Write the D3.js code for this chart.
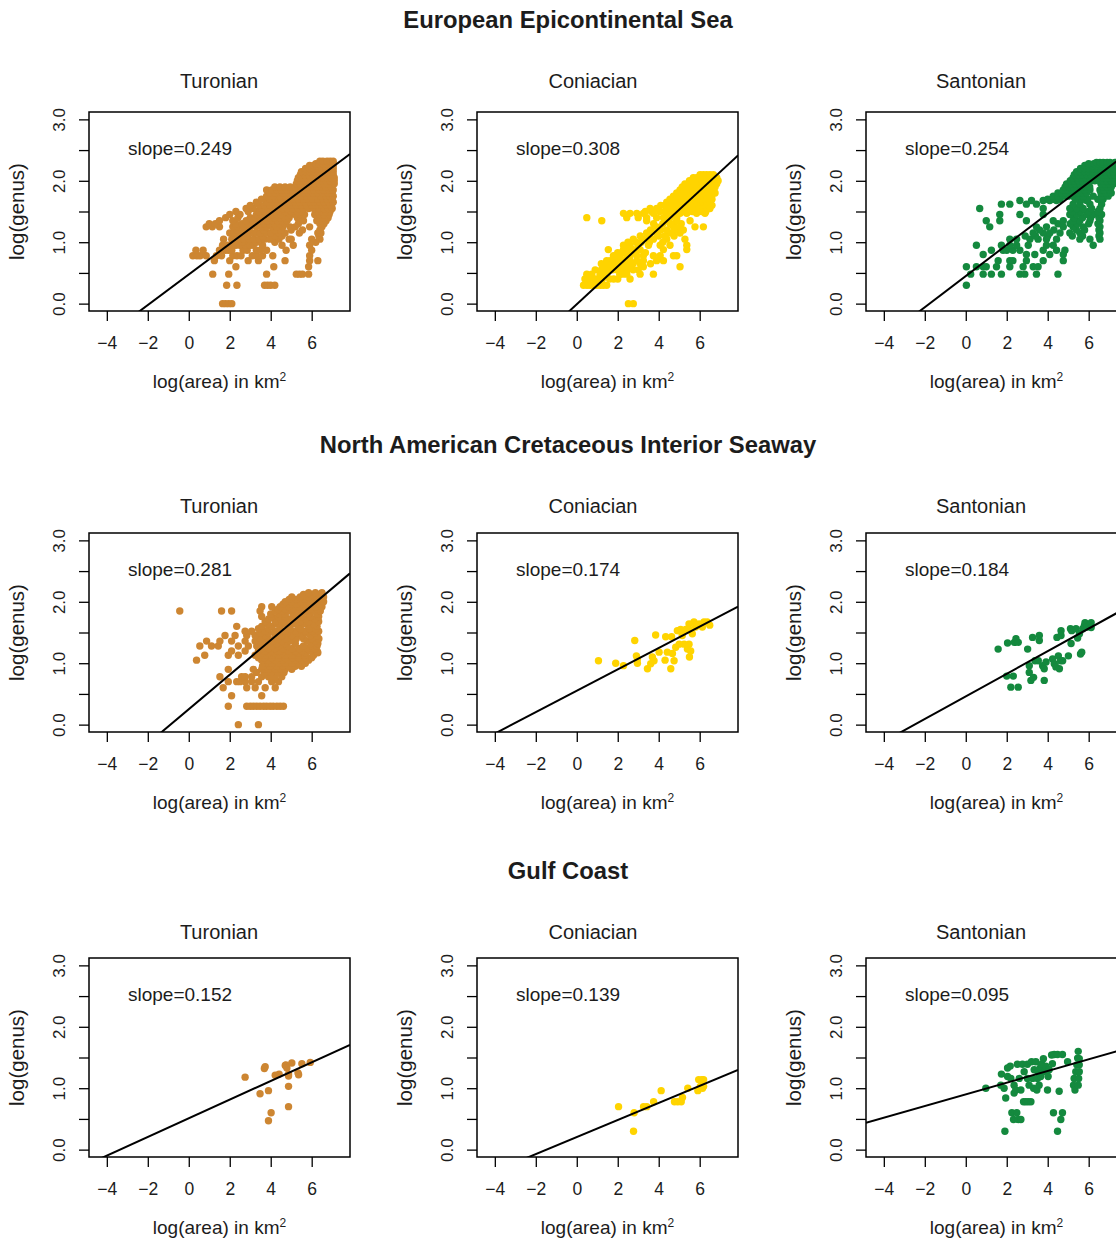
<!DOCTYPE html>
<html>
<head>
<meta charset="utf-8">
<script src="https://cdn.jsdelivr.net/npm/d3@7"></script>
<style>
    body { margin: 0; background: #ffffff; }
    text { font-family: "Liberation Sans", Arial, Helvetica, sans-serif; fill: #1c1c1c; }
</style>
</head>
<body>
<div class="species-area-figure"></div>
<script>
// ---- values ----
const regions = ["European Epicontinental Sea", "North American Cretaceous Interior Seaway", "Gulf Coast"];
const stages = ["Turonian", "Coniacian", "Santonian"];
const stageColors = ["#cd8632", "#ffd400", "#14893e"];

// regression lines, one row per region, one column per stage
const slopes = [[0.249, 0.308, 0.254], [0.281, 0.174, 0.184], [0.152, 0.139, 0.095]];
const intercepts = [[0.475, -0.01, 0.449], [0.251, 0.55, 0.46], [0.51, 0.205, 0.90]];

const xTicks = [-4, -2, 0, 2, 4, 6];
const xTickLabels = ["\u22124", "\u22122", "0", "2", "4", "6"];
const yTicks = [0, 0.5, 1, 1.5, 2, 2.5, 3];
const yTickLabels = ["0.0", "", "1.0", "", "2.0", "", "3.0"];

// dense panels: [log(genus), [log(area) values on that level]]
const eesTuronianRows = [
    [0.0, [1.65, 1.8, 1.95, 2.1]],
    [0.3, [1.85, 2.35, 3.7, 3.85, 4.0, 4.2]],
    [0.48, [1.17, 1.95, 3.8, 5.25, 5.4, 5.55, 5.85]],
    [0.6, [2.3, 4.15, 5.85]],
    [0.7, [1.25, 2.0, 2.9, 3.4, 4.7, 5.9, 6.3]],
    [0.78, [0.2, 0.4, 0.55, 0.85, 1.35, 1.6, 2.15, 2.35, 2.55, 3.1, 3.3, 3.6, 4.1, 5.9]],
    [0.87, [0.35, 0.7, 1.5, 1.8, 1.95, 2.1, 2.65, 2.85, 3.3, 3.5, 3.8, 4.75, 6.0]],
    [0.95, [1.65, 1.9, 2.05, 2.3, 2.5, 2.8, 3.0, 3.15, 3.6, 4.55, 5.1, 5.9]],
    [1.0, [2.2, 2.6, 3.3, 4.2, 6.2]],
    [1.05, [1.7, 2.1, 2.3, 2.5, 2.7, 2.95, 3.2, 3.45, 3.7, 3.95, 4.4, 4.9, 5.0, 6.0, 6.4]],
    [1.1, [2.4, 2.85, 3.6, 4.2, 4.55, 6.35]],
    [1.15, [2.0, 2.2, 2.5, 2.7, 3.1, 3.3, 3.5, 3.8, 4.0, 4.4, 4.7, 5.4, 6.3, 6.45]],
    [1.2, [2.35, 2.9, 3.65, 4.2, 4.5, 5.0, 5.55, 6.4]],
    [1.25, [0.85, 1.15, 1.5, 2.15, 2.4, 2.65, 3.0, 3.3, 3.55, 3.8, 4.05, 4.3, 4.6, 4.95, 5.2, 5.9, 6.5]],
    [1.3, [1.0, 1.3, 2.3, 2.6, 2.9, 3.2, 3.45, 3.7, 3.95, 4.2, 4.45, 4.7, 5.35, 6.4, 6.6]],
    [1.35, [1.5, 2.15, 2.8, 3.15, 3.4, 3.6, 3.85, 4.1, 4.35, 4.55, 4.8, 5.4, 5.6, 6.25, 6.5, 6.7]],
    [1.4, [1.8, 2.4, 3.0, 3.25, 3.5, 3.75, 4.0, 4.2, 4.45, 4.7, 4.9, 5.3, 5.5, 6.3, 6.55, 6.8]],
    [1.45, [2.0, 2.5, 3.3, 3.55, 3.8, 4.05, 4.3, 4.5, 4.95, 5.2, 5.45, 5.65, 6.15, 6.4, 6.6, 6.85]],
    [1.5, [2.3, 2.9, 3.4, 3.7, 3.95, 4.2, 4.45, 4.7, 5.0, 5.3, 5.5, 6.25, 6.5, 6.7, 6.9]],
    [1.55, [2.8, 3.15, 3.6, 3.85, 4.1, 4.35, 4.6, 4.8, 5.1, 5.35, 5.6, 5.85, 6.1, 6.35, 6.6, 6.8, 7.0]],
    [1.6, [3.0, 3.45, 3.7, 3.95, 4.25, 4.5, 4.7, 5.0, 5.25, 5.5, 5.75, 6.0, 6.2, 6.5, 6.7, 6.95]],
    [1.65, [3.3, 3.8, 4.1, 4.35, 4.6, 4.95, 5.2, 5.45, 5.7, 5.95, 6.15, 6.4, 6.6, 6.85, 7.05]],
    [1.7, [3.55, 3.95, 4.25, 4.5, 4.85, 5.1, 5.35, 5.6, 5.85, 6.05, 6.3, 6.55, 6.75, 7.0]],
    [1.75, [3.8, 4.1, 4.45, 4.75, 5.0, 5.25, 5.5, 5.75, 5.95, 6.2, 6.45, 6.7, 6.9, 7.05]],
    [1.8, [3.95, 4.2, 4.6, 4.9, 5.15, 5.35, 5.6, 5.85, 6.05, 6.3, 6.55, 6.8, 7.0]],
    [1.85, [3.8, 4.05, 4.3, 4.55, 4.8, 5.1, 5.4, 5.65, 5.9, 6.1, 6.35, 6.6, 6.85, 7.05]],
    [1.9, [4.2, 4.45, 4.7, 4.95, 5.2, 5.5, 5.75, 6.0, 6.25, 6.5, 6.7, 6.95]],
    [1.95, [5.25, 5.45, 5.6, 5.9, 6.15, 6.4, 6.6, 6.8, 7.0, 7.1]],
    [2.0, [5.3, 5.5, 5.7, 5.9, 6.1, 6.3, 6.5, 6.7, 6.9, 7.1]],
    [2.05, [5.35, 5.55, 5.75, 5.95, 6.15, 6.35, 6.55, 6.75, 6.95, 7.1]],
    [2.1, [5.45, 5.65, 5.85, 6.05, 6.25, 6.45, 6.65, 6.85, 7.05]],
    [2.15, [5.5, 5.7, 5.9, 6.1, 6.3, 6.5, 6.7, 6.9, 7.05]],
    [2.2, [5.7, 5.9, 6.1, 6.3, 6.5, 6.7, 6.9, 7.05]],
    [2.25, [5.9, 6.1, 6.25, 6.45, 6.65, 6.85, 7.05]],
    [2.28, [6.2, 6.35, 6.55, 6.7, 6.9, 7.05]],
    [2.32, [6.4, 6.55, 6.75, 6.9, 7.05]]
];

const eesConiacianRows = [
    [0.0, [2.52, 2.76]],
    [0.3, [0.33, 0.5, 0.65, 0.82, 0.98, 1.15, 1.3, 1.46]],
    [0.4, [0.4, 0.6, 0.85, 1.0, 1.25, 1.6, 1.8, 2.0, 2.6]],
    [0.48, [0.49, 0.73, 1.14, 1.3, 1.46, 2.1, 2.25, 2.44, 3.09, 3.74]],
    [0.55, [0.9, 1.2, 1.5, 1.75, 1.95, 2.2, 2.45, 2.75, 3.0]],
    [0.6, [1.3, 1.45, 1.63, 2.1, 2.3, 2.6, 3.25, 5.04]],
    [0.65, [1.2, 1.55, 1.75, 1.95, 2.15, 2.4, 2.75, 3.1, 3.6]],
    [0.7, [1.46, 1.63, 1.79, 2.0, 2.28, 2.45, 2.6, 2.93, 3.25, 3.9, 4.23]],
    [0.78, [1.79, 1.95, 2.1, 2.44, 2.6, 2.93, 3.25, 3.74, 4.07, 4.72, 4.88]],
    [0.83, [2.0, 2.2, 2.35, 2.6, 2.85, 3.35]],
    [0.88, [1.54, 2.28, 2.45, 2.76, 3.09, 4.23, 5.37]],
    [0.95, [2.28, 2.6, 3.0, 3.5, 4.07, 4.55, 5.37]],
    [1.0, [2.5, 2.9, 3.15, 3.55, 4.2]],
    [1.05, [2.76, 3.25, 3.74, 4.39, 5.28]],
    [1.1, [3.1, 3.55, 4.0, 4.3, 4.75]],
    [1.15, [3.41, 3.9, 4.55, 5.04]],
    [1.2, [3.6, 4.1, 4.4, 4.8, 5.2]],
    [1.25, [3.9, 4.72, 5.04, 5.77, 6.18]],
    [1.3, [3.75, 4.2, 4.55, 4.75, 5.1]],
    [1.35, [1.22, 3.41, 4.39, 4.88, 5.53]],
    [1.4, [0.49, 2.44, 3.0, 3.41, 3.9, 4.23, 4.55, 4.88]],
    [1.47, [2.28, 2.6, 2.93, 3.25, 3.74, 4.39, 4.72, 5.04, 5.37, 5.85, 6.26]],
    [1.5, [3.35, 3.65, 4.05, 4.3, 4.55, 4.8, 5.0, 5.2, 5.45, 5.65, 5.9, 6.1, 6.3]],
    [1.55, [3.58, 3.9, 4.55, 4.72, 4.88, 5.04, 5.2, 5.37, 5.53, 5.69, 5.85, 6.02, 6.18, 6.34, 6.5]],
    [1.6, [4.1, 4.3, 4.45, 4.65, 4.8, 4.95, 5.1, 5.3, 5.45, 5.6, 5.8, 5.95, 6.1, 6.26, 6.42, 6.6]],
    [1.65, [4.39, 4.55, 4.72, 4.88, 5.04, 5.2, 5.37, 5.53, 5.69, 5.85, 6.02, 6.18, 6.34, 6.5]],
    [1.7, [4.55, 4.8, 4.95, 5.1, 5.3, 5.45, 5.6, 5.75, 5.93, 6.1, 6.26, 6.42, 6.6]],
    [1.75, [4.72, 4.88, 5.04, 5.2, 5.37, 5.53, 5.69, 5.85, 6.02, 6.18, 6.34, 6.58]],
    [1.8, [4.88, 5.1, 5.28, 5.45, 5.6, 5.75, 5.93, 6.1, 6.26, 6.42, 6.6, 6.75]],
    [1.85, [5.04, 5.2, 5.37, 5.53, 5.69, 5.85, 6.02, 6.18, 6.34, 6.5, 6.67]],
    [1.9, [5.15, 5.3, 5.45, 5.6, 5.76, 5.93, 6.1, 6.26, 6.42, 6.58, 6.75]],
    [1.95, [5.28, 5.45, 5.6, 5.76, 5.93, 6.1, 6.26, 6.42, 6.58, 6.83]],
    [2.0, [5.5, 5.65, 5.8, 5.95, 6.1, 6.26, 6.42, 6.58, 6.75, 6.9]],
    [2.05, [5.69, 5.85, 6.02, 6.18, 6.34, 6.5, 6.67, 6.83]],
    [2.1, [6.02, 6.18, 6.34, 6.5, 6.67]]
];

const eesSantonianRows = [
    [0.3, [0.03]],
    [0.48, [0.24, 0.85, 1.25, 1.74, 2.64, 2.88, 3.45, 4.5]],
    [0.6, [0.03, 0.52, 0.85, 1.0, 1.5, 2.15, 2.8, 3.29, 3.53]],
    [0.7, [1.58, 2.15, 2.3, 2.96, 3.78, 4.76]],
    [0.8, [0.85, 2.96, 3.37, 4.1, 4.76]],
    [0.87, [1.25, 1.82, 2.0, 2.3, 2.64, 3.78, 4.43, 4.84]],
    [0.95, [0.52, 1.74, 2.15, 2.48, 3.05, 3.94, 4.27, 6.22]],
    [1.05, [2.15, 2.48, 3.13, 3.53, 3.94, 4.43, 5.57, 6.06, 6.55]],
    [1.1, [2.9, 3.4, 4.0, 5.2, 5.7, 6.5]],
    [1.15, [3.29, 3.78, 4.1, 4.6, 5.08, 5.57, 6.55]],
    [1.2, [3.6, 4.3, 5.4, 5.8, 6.5]],
    [1.25, [1.17, 3.45, 3.94, 4.76, 5.24, 5.73, 6.55]],
    [1.3, [4.5, 5.1, 5.45, 6.0, 6.45]],
    [1.35, [1.0, 1.66, 2.96, 4.27, 4.76, 5.24, 5.57, 6.06, 6.55]],
    [1.4, [5.3, 5.7, 6.1, 6.5]],
    [1.45, [1.66, 2.64, 3.78, 5.08, 5.41, 5.9, 6.22, 6.63]],
    [1.5, [5.2, 5.6, 6.0, 6.45]],
    [1.55, [0.68, 3.78, 5.08, 5.41, 5.73, 6.14, 6.55]],
    [1.62, [1.74, 2.15, 2.96, 3.45, 5.24, 5.57, 6.06, 6.63]],
    [1.68, [2.64, 3.21, 3.78, 4.1, 4.43, 5.57, 5.9]],
    [1.7, [4.0, 4.3, 4.6, 5.35, 5.7, 5.95, 6.45, 6.7]],
    [1.75, [4.27, 4.5, 4.75, 5.0, 5.24, 5.5, 5.73, 6.22, 6.63, 6.95]],
    [1.8, [4.5, 4.7, 4.9, 5.1, 5.3, 5.5, 5.7, 5.9, 6.6, 6.85, 7.1]],
    [1.85, [4.76, 5.0, 5.2, 5.41, 5.6, 5.8, 6.06, 6.55, 6.75, 7.04]],
    [1.9, [4.85, 5.05, 5.25, 5.45, 5.65, 5.85, 6.05, 6.7, 6.9, 7.1]],
    [1.95, [4.92, 5.15, 5.35, 5.57, 5.75, 5.95, 6.6, 6.8, 7.0, 7.2]],
    [2.0, [5.1, 5.3, 5.5, 5.7, 5.9, 6.1, 6.3, 6.5, 6.7, 6.9, 7.1, 7.25]],
    [2.05, [5.24, 5.45, 5.65, 5.85, 6.05, 6.25, 6.45, 6.7, 6.95, 7.2]],
    [2.1, [5.3, 5.5, 5.7, 5.9, 6.1, 6.3, 6.5, 6.7, 6.9, 7.1, 7.25]],
    [2.15, [5.41, 5.6, 5.8, 6.0, 6.2, 6.4, 6.6, 6.8, 7.0, 7.2]],
    [2.2, [5.6, 5.8, 6.0, 6.2, 6.4, 6.6, 6.8, 7.0, 7.25]],
    [2.25, [5.81, 6.0, 6.2, 6.4, 6.6, 6.8, 7.0, 7.2]],
    [2.28, [6.0, 6.25, 6.45, 6.65, 6.85, 7.05, 7.25]],
    [2.3, [6.38, 6.55, 6.71, 6.9, 7.04, 7.28]]
];

const nacisTuronianRows = [
    [0.0, [2.42, 3.4]],
    [0.3, [1.93, 2.83, 3.0, 3.15, 3.32, 3.48, 3.65, 3.8, 3.97, 4.12, 4.3, 4.46, 4.62]],
    [0.47, [2.09, 3.56]],
    [0.6, [1.68, 2.83, 3.24, 3.73, 4.22]],
    [0.7, [1.93, 2.34, 2.5, 2.75, 3.07, 3.4, 4.05, 4.38]],
    [0.78, [1.52, 2.58, 2.75, 3.07, 3.56, 3.89, 4.22, 4.54]],
    [0.85, [3.3, 3.7, 4.05, 4.35, 4.65]],
    [0.9, [1.93, 3.15, 3.56, 3.89, 4.22, 4.5, 4.71, 5.03]],
    [0.95, [3.6, 3.95, 4.3, 4.6, 4.9, 5.2, 5.5]],
    [1.0, [3.73, 3.9, 4.05, 4.38, 4.71, 5.03, 5.36, 5.69]],
    [1.05, [0.38, 3.56, 3.89, 4.22, 4.54, 4.87, 5.2, 5.52, 5.85]],
    [1.09, [3.4, 3.7, 4.05, 4.4, 4.7, 5.05, 5.35, 5.7, 6.0]],
    [1.13, [0.78, 1.93, 2.42, 3.24, 3.5, 3.73, 4.05, 4.38, 4.71, 5.03, 5.36, 5.69, 6.09]],
    [1.17, [3.55, 3.9, 4.2, 4.55, 4.9, 5.35, 5.7, 6.05, 6.3]],
    [1.2, [2.09, 2.75, 3.4, 3.73, 4.05, 4.3, 4.46, 4.87, 5.2, 5.52, 5.93, 6.26]],
    [1.24, [3.55, 3.9, 4.2, 4.6, 5.05, 5.4, 5.8, 6.15]],
    [1.28, [0.54, 1.11, 1.44, 2.42, 2.91, 3.32, 3.73, 4.05, 4.38, 4.79, 5.6, 6.01, 6.26]],
    [1.32, [3.5, 3.9, 4.3, 4.7, 5.2, 5.95, 6.3]],
    [1.36, [0.87, 1.52, 2.09, 2.75, 3.24, 3.73, 4.13, 4.54, 4.95, 5.77, 6.18]],
    [1.4, [3.5, 3.9, 4.35, 4.75, 5.25, 5.6, 6.0, 6.35]],
    [1.45, [1.77, 2.26, 2.83, 3.24, 3.73, 4.22, 4.54, 5.03, 5.52, 5.93, 6.26]],
    [1.49, [3.5, 3.9, 4.4, 4.8, 5.3, 5.75, 6.15]],
    [1.52, [2.75, 3.07, 3.73, 4.22, 4.71, 5.2, 5.69, 6.01, 6.34]],
    [1.56, [3.4, 3.9, 4.45, 4.95, 5.45, 5.9, 6.2]],
    [1.6, [2.34, 3.56, 4.05, 4.46, 4.87, 5.36, 5.85, 6.26]],
    [1.64, [3.85, 4.3, 4.7, 5.2, 5.6, 6.1]],
    [1.68, [3.73, 4.22, 4.62, 5.03, 5.44, 5.85, 6.34]],
    [1.72, [3.9, 4.5, 4.9, 5.3, 5.7, 6.15]],
    [1.76, [3.56, 4.05, 4.38, 4.71, 5.11, 5.52, 5.93, 6.34]],
    [1.8, [4.0, 4.4, 4.7, 5.1, 5.45, 5.85, 6.25]],
    [1.85, [-0.44, 1.6, 2.09, 3.48, 4.22, 4.54, 4.87, 5.28, 5.69, 6.09, 6.42]],
    [1.88, [4.35, 4.7, 5.1, 5.5, 5.9, 6.3]],
    [1.92, [3.56, 4.05, 4.46, 4.87, 5.36, 5.77, 6.18, 6.5]],
    [1.96, [4.6, 4.95, 5.25, 5.6, 6.0, 6.4]],
    [2.0, [4.71, 5.03, 5.44, 5.85, 6.26, 6.58]],
    [2.04, [4.9, 5.25, 5.65, 6.05, 6.45]],
    [2.08, [5.03, 5.44, 5.85, 6.26, 6.58]],
    [2.12, [5.6, 6.0, 6.35]],
    [2.15, [5.85, 6.18, 6.5]]
];

// sparse panels: [log(area), log(genus)]
const nacisConiacian = [
    [1.06, 1.04], [1.9, 1.0], [2.28, 0.96], [2.83, 1.37], [2.91, 1.12], [2.96, 1.0], [2.96, 1.07],
    [3.45, 0.91], [3.61, 0.99], [3.69, 1.1], [3.77, 1.04], [3.85, 1.46], [4.02, 1.18], [4.31, 1.05],
    [4.34, 1.43], [4.42, 1.18], [4.59, 0.91], [4.63, 1.43], [4.67, 1.16], [4.75, 1.04], [4.83, 1.26],
    [4.91, 1.53], [5.0, 1.31], [5.0, 1.53], [5.07, 1.55], [5.15, 1.45], [5.24, 1.31], [5.32, 1.55],
    [5.4, 1.23], [5.48, 1.64], [5.48, 1.31], [5.48, 1.55], [5.5, 1.1], [5.56, 1.2], [5.64, 1.48],
    [5.72, 1.67], [5.8, 1.59], [5.97, 1.64], [6.13, 1.59], [6.21, 1.67], [6.37, 1.67], [6.49, 1.62]
];

const nacisSantonian = [
    [1.58, 1.23], [2.0, 0.79], [2.04, 1.33], [2.2, 0.61], [2.32, 0.79], [2.37, 1.34], [2.45, 1.4],
    [2.56, 0.61], [2.56, 1.34], [3.02, 1.23], [3.1, 0.96], [3.1, 0.85], [3.18, 0.72], [3.26, 1.42],
    [3.31, 0.77], [3.38, 1.04], [3.54, 1.04], [3.59, 1.45], [3.59, 1.37], [3.75, 0.96], [3.83, 0.91],
    [3.83, 0.72], [3.92, 1.02], [4.24, 1.07], [4.32, 0.99], [4.4, 0.94], [4.45, 1.42], [4.52, 1.12],
    [4.57, 0.91], [4.62, 1.04], [4.65, 1.53], [4.65, 1.45], [4.73, 1.04], [5.01, 1.12], [5.11, 1.56],
    [5.14, 1.32], [5.17, 1.53], [5.38, 1.56], [5.46, 1.41], [5.55, 1.48], [5.6, 1.15], [5.66, 1.18],
    [5.71, 1.56], [5.79, 1.61], [5.82, 1.66], [5.92, 1.59], [6.04, 1.61], [6.12, 1.66], [6.12, 1.58]
];

const gcTuronian = [
    [2.75, 1.18], [3.48, 0.91], [3.69, 1.32], [3.73, 1.35], [3.89, 0.96], [3.89, 0.47], [4.02, 0.6],
    [4.22, 1.21], [4.41, 1.23], [4.71, 1.37], [4.74, 1.38], [4.79, 1.33], [4.87, 1.23], [4.87, 1.2],
    [4.87, 1.03], [4.87, 0.7], [5.03, 1.41], [5.33, 1.25], [5.36, 1.22], [5.52, 1.4], [5.93, 1.42]
];

const gcConiacian = [
    [2.04, 0.7], [2.77, 0.3], [2.8, 0.6], [3.26, 0.7], [3.42, 0.7], [3.75, 0.78], [4.12, 0.96],
    [4.77, 0.78], [4.93, 0.78], [5.1, 0.78], [5.16, 0.85], [5.42, 1.0], [5.91, 0.96], [5.95, 1.14],
    [6.03, 1.03], [6.11, 1.14], [6.14, 1.0], [6.19, 1.14], [6.19, 1.03]
];

const gcSantonian = [
    [0.98, 1.0], [1.74, 1.23], [1.91, 0.3], [1.95, 0.84], [1.87, 1.0], [1.71, 1.05], [2.04, 1.33],
    [2.04, 1.19], [2.17, 1.36], [2.2, 1.16], [2.25, 0.6], [2.33, 0.49], [2.36, 1.05], [2.36, 0.92],
    [2.44, 0.97], [2.49, 0.6], [2.52, 1.39], [2.56, 0.49], [2.61, 1.16], [2.69, 0.49], [2.69, 0.97],
    [2.77, 1.39], [2.82, 0.78], [2.85, 1.27], [2.93, 0.78], [3.01, 1.16], [3.01, 1.39], [3.05, 0.78],
    [3.09, 1.05], [3.18, 0.78], [3.21, 1.43], [3.26, 1.16], [3.31, 1.0], [3.34, 1.3], [3.42, 1.43],
    [3.47, 0.97], [3.5, 1.16], [3.53, 1.27], [3.58, 1.05], [3.63, 1.33], [3.66, 1.19], [3.7, 1.39],
    [3.79, 1.48], [3.83, 1.27], [3.91, 1.36], [3.99, 0.97], [4.02, 1.19], [4.07, 1.3], [4.19, 1.54],
    [4.23, 1.4], [4.28, 0.6], [4.32, 1.55], [4.48, 1.55], [4.48, 0.3], [4.56, 0.95], [4.64, 0.49],
    [4.72, 0.6], [4.72, 1.55], [4.97, 1.43], [5.26, 1.05], [5.29, 1.16], [5.33, 0.97], [5.37, 1.27],
    [5.42, 1.38], [5.46, 1.49], [5.49, 1.6], [5.49, 1.05], [5.51, 1.16], [5.54, 1.27], [5.54, 1.38],
    [5.54, 1.48]
];

// turn a [level, [x...]] table into [x, y] pairs
function rowsToPoints(rows) {
    return rows.flatMap(([y, xs]) => xs.map((x) => [x, y]));
}

const panelPoints = [
    [rowsToPoints(eesTuronianRows), rowsToPoints(eesConiacianRows), rowsToPoints(eesSantonianRows)],
    [rowsToPoints(nacisTuronianRows), nacisConiacian, nacisSantonian],
    [gcTuronian, gcConiacian, gcSantonian]
];

// ---- layout ----
const width = 1116;
const height = 1239;
const boxW = 261;
const boxH = 199;
const colLeft = [89, 477, 866];
const rowTop = [112, 533, 958];
const titleX = [219, 593, 981];
const stageTitleY = [88, 513, 939];
const regionTitleY = [28, 453, 879];

const svg = d3.select(".species-area-figure")
    .append("svg")
    .attr("width", width)
    .attr("height", height);

// same axis limits for all nine panels
const xScale = d3.scaleLinear().domain([-4.87, 7.87]).range([0, boxW]);
const yScale = d3.scaleLinear().domain([-0.12, 3.12]).range([boxH, 0]);

function drawPanel(r, c) {
    const g = svg.append("g")
        .attr("transform", `translate(${colLeft[c]},${rowTop[r]})`);

    const clipId = `clip-${r}-${c}`;
    g.append("clipPath").attr("id", clipId)
        .append("rect").attr("width", boxW).attr("height", boxH);

    // points
    g.append("g")
        .attr("clip-path", `url(#${clipId})`)
        .selectAll("circle")
        .data(panelPoints[r][c])
        .enter()
        .append("circle")
        .attr("cx", (d) => xScale(d[0]))
        .attr("cy", (d) => yScale(d[1]))
        .attr("r", 3.7)
        .attr("fill", stageColors[c]);

    // fitted line across the whole panel
    const lineGen = d3.line()
        .x((x) => xScale(x))
        .y((x) => yScale(intercepts[r][c] + slopes[r][c] * x));
    g.append("path")
        .attr("clip-path", `url(#${clipId})`)
        .attr("d", lineGen(xScale.domain()))
        .attr("fill", "none")
        .attr("stroke", "#000")
        .attr("stroke-width", 2);

    // x axis
    const xAxis = g.append("g")
        .attr("transform", `translate(0,${boxH})`)
        .call(d3.axisBottom(xScale).tickValues(xTicks).tickSize(10).tickSizeOuter(0)
            .tickFormat((d, i) => xTickLabels[i]))
        .attr("font-size", null)
        .attr("font-family", null);
    xAxis.select(".domain").remove();
    xAxis.selectAll("line").attr("stroke", "#000").attr("stroke-width", 1.3);
    xAxis.selectAll("text")
        .attr("y", 38)
        .attr("dy", null)
        .style("font-size", "17.5px");

    // y axis, labels written along the axis like R does
    const yAxis = g.append("g")
        .call(d3.axisLeft(yScale).tickValues(yTicks).tickSize(10).tickSizeOuter(0)
            .tickFormat((d, i) => yTickLabels[i]))
        .attr("font-size", null)
        .attr("font-family", null);
    yAxis.select(".domain").remove();
    yAxis.selectAll("line").attr("stroke", "#000").attr("stroke-width", 1.3);
    yAxis.selectAll("text")
        .attr("x", null)
        .attr("dy", null)
        .attr("text-anchor", "middle")
        .attr("transform", "translate(-24,0) rotate(-90)")
        .style("font-size", "17px");

    // frame
    g.append("rect")
        .attr("width", boxW)
        .attr("height", boxH)
        .attr("fill", "none")
        .attr("stroke", "#000")
        .attr("stroke-width", 1.5);

    g.append("text")
        .attr("x", 39)
        .attr("y", 43)
        .style("font-size", "19px")
        .text(`slope=${slopes[r][c].toFixed(3)}`);

    g.append("text")
        .attr("x", titleX[c] - colLeft[c])
        .attr("y", stageTitleY[r] - rowTop[r])
        .attr("text-anchor", "middle")
        .style("font-size", "20px")
        .text(stages[c]);

    const xLabel = g.append("text")
        .attr("x", boxW / 2)
        .attr("y", boxH + 77)
        .attr("text-anchor", "middle")
        .style("font-size", "19px")
        .text("log(area) in km");
    xLabel.append("tspan")
        .attr("dy", -7)
        .style("font-size", "12px")
        .text("2");

    g.append("text")
        .attr("transform", `translate(-65,${boxH / 2}) rotate(-90)`)
        .attr("text-anchor", "middle")
        .style("font-size", "20.5px")
        .text("log(genus)");
}

regions.forEach((region, r) => {
    svg.append("text")
        .attr("x", 568)
        .attr("y", regionTitleY[r])
        .attr("text-anchor", "middle")
        .style("font-size", "23.8px")
        .style("font-weight", "bold")
        .text(region);
    stages.forEach((stage, c) => drawPanel(r, c));
});
</script>
</body>
</html>
